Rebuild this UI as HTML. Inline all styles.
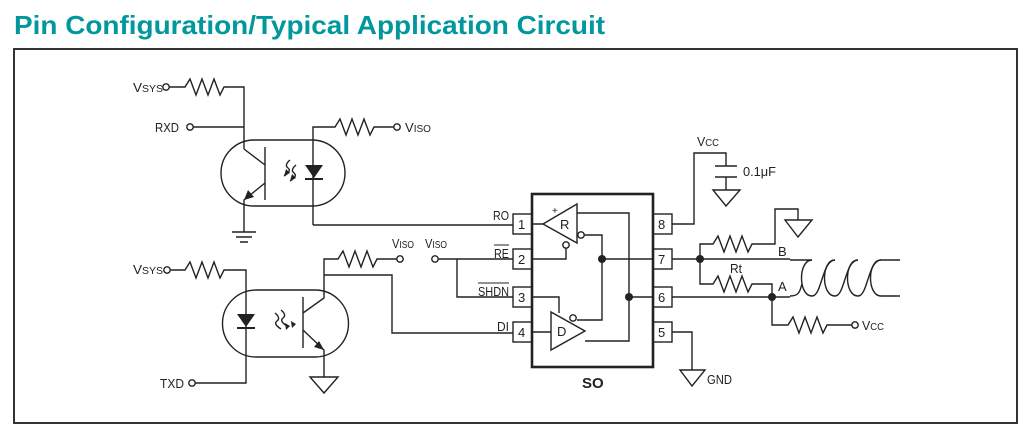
<!DOCTYPE html>
<html><head><meta charset="utf-8"><style>
body{margin:0;background:#fff;width:1024px;height:439px;overflow:hidden}
svg{display:block}
text{font-family:"Liberation Sans",sans-serif;fill:#222}
</style></head><body>
<svg width="1024" height="439" viewBox="0 0 1024 439" xmlns="http://www.w3.org/2000/svg">
<text x="14" y="34" font-size="26" font-weight="bold" style="fill:#00979d" textLength="591" lengthAdjust="spacingAndGlyphs">Pin Configuration/Typical Application Circuit</text>
<rect x="14" y="49" width="1003" height="374" fill="none" stroke="#333" stroke-width="2"/>
<g fill="none" stroke="#222" stroke-width="1.4">
<circle cx="166" cy="87" r="3.2"/>
<path d="M169,87H185l5,-8 6,16 6,-16 6,16 6,-16 6,16 4,-8H244V149"/>
<circle cx="190" cy="127" r="3.2"/>
<path d="M193,127H244"/>
<path d="M254,140H312A33,33 0 0 1 312,206H254A33,33 0 0 1 254,140Z"/>
<path d="M265,147V200M244,149L265,165M265,183L244,200V232M232,232H256M236,237H252M240,242H248"/>
<path d="M313,225V127H335l5,-8 6,16 6,-16 6,16 6,-16 6,16 4,-8H394"/>
<circle cx="397" cy="127" r="3.2"/>
<path d="M313,225H513"/>
<path d="M290,160q-6,5 -2,8t-4,8M296,165q-6,5 -2,8t-4,8"/>
<circle cx="167" cy="270" r="3.2"/>
<path d="M170,270H185l5,-8 6,16 6,-16 6,16 6,-16 6,16 4,-8H246V383H195"/>
<circle cx="192" cy="383" r="3.2"/>
<path d="M256,290H315A33,33 0 0 1 315,357H256A33,33 0 0 1 256,290Z"/>
<path d="M303,297V348M303,313L324,298V259H338l5,-8 6,16 6,-16 6,16 6,-16 6,16 4,-8H397"/>
<circle cx="400" cy="259" r="3.2"/>
<path d="M324,275H392V333H513"/>
<path d="M303,330L324,350V377"/>
<path d="M310,377H338L324,393Z"/>
<path d="M275,313q6,5 2,8t4,8M281,310q6,5 2,8t4,8"/>
<circle cx="435" cy="259" r="3.2"/>
<path d="M438,259H513M457,259V297H513"/>
<rect x="532" y="194" width="121" height="173" stroke-width="2.6"/>
<rect x="513" y="214" width="19" height="20"/><rect x="513" y="249" width="19" height="20"/>
<rect x="513" y="287" width="19" height="20"/><rect x="513" y="322" width="19" height="20"/>
<rect x="653" y="214" width="19" height="20"/><rect x="653" y="249" width="19" height="20"/>
<rect x="653" y="287" width="19" height="20"/><rect x="653" y="322" width="19" height="20"/>
<path d="M532,224H543M543,224L577,204V243Z"/>
<circle cx="581" cy="235" r="3.2"/><circle cx="566" cy="245" r="3.2"/>
<path d="M532,259H566V248M584,235H602V320H577M577,213H629V341H585M602,259H653M629,297H653"/>
<path d="M532,297H559V313M532,332H551M551,312V350L585,331Z"/>
<circle cx="573" cy="318" r="3.2"/>
<path d="M672,224H694V153H726V166M715,166H737M715,177H737M726,177V190M713,190H740L726,206Z"/>
<path d="M672,259H790M700,259V244H713l5,-8 6,16 6,-16 6,16 6,-16 6,16 4,-8H775V209H798V220M785,220H812L798,237Z"/>
<path d="M700,259V284H713l5,-8 6,16 6,-16 6,16 6,-16 6,16 4,-8H772V297"/>
<path d="M672,297H790M772,297V325H788l5,-8 6,16 6,-16 6,16 6,-16 6,16 4,-8H852"/>
<circle cx="855" cy="325" r="3.2"/>
<path d="M672,332H692V370M680,370H705L692,386Z"/>
<path d="M790,260H812M790,296C800,296 800,290 802,284"/>
<path d="M812,260C798,260 798,296 812,296M835,260C821,260 821,296 835,296M858,260C844,260 844,296 858,296M881,260C867,260 867,296 881,296H900M881,260H900"/>
<path d="M812,296C822,296 822,260 835,260M835,296C845,296 845,260 858,260M858,296C868,296 868,260 881,260"/>
</g>
<g fill="#222">
<path d="M305,165H323L314,178Z"/><rect x="305" y="178" width="18" height="2"/>
<path d="M237,314H255L246,327Z"/><rect x="237" y="327" width="18" height="2"/>
<path d="M244,200l4,-10 6,7Z"/><path d="M324,350l-10,-3 5,-6Z"/>
<path d="M284,176l2,-7 4,4Z"/><path d="M290,181l2,-7 4,4Z"/>
<path d="M286,330l-1,-7 5,3Z"/><path d="M292,328l-1,-7 5,3Z"/>
<circle cx="602" cy="259" r="4"/><circle cx="629" cy="297" r="4"/>
<circle cx="700" cy="259" r="4"/><circle cx="772" cy="297" r="4"/>
</g>
<g font-size="13">
<text x="133" y="92" textLength="30" lengthAdjust="spacingAndGlyphs">V<tspan font-size="10">SYS</tspan></text>
<text x="155" y="132" textLength="24" lengthAdjust="spacingAndGlyphs">RXD</text>
<text x="405" y="132" textLength="26" lengthAdjust="spacingAndGlyphs">V<tspan font-size="10">ISO</tspan></text>
<text x="133" y="274" textLength="30" lengthAdjust="spacingAndGlyphs">V<tspan font-size="10">SYS</tspan></text>
<text x="160" y="388" textLength="24" lengthAdjust="spacingAndGlyphs">TXD</text>
<text x="392" y="248" textLength="22" lengthAdjust="spacingAndGlyphs">V<tspan font-size="10">ISO</tspan></text>
<text x="425" y="248" textLength="22" lengthAdjust="spacingAndGlyphs">V<tspan font-size="10">ISO</tspan></text>
<text x="509" y="220" text-anchor="end" textLength="16" lengthAdjust="spacingAndGlyphs">RO</text>
<text x="509" y="258" text-anchor="end" textLength="15" lengthAdjust="spacingAndGlyphs">RE</text><path d="M494,245H509" stroke="#222"/>
<text x="509" y="296" text-anchor="end" textLength="31" lengthAdjust="spacingAndGlyphs">SHDN</text><path d="M478,283H509" stroke="#222"/>
<text x="509" y="331" text-anchor="end" textLength="12" lengthAdjust="spacingAndGlyphs">DI</text>
<text x="518" y="229">1</text><text x="518" y="264">2</text><text x="518" y="302">3</text><text x="518" y="337">4</text>
<text x="658" y="229">8</text><text x="658" y="264">7</text><text x="658" y="302">6</text><text x="658" y="337">5</text>
<text x="552" y="214" font-size="10">+</text>
<text x="560" y="229">R</text><text x="557" y="336">D</text>
<text x="697" y="146" textLength="22" lengthAdjust="spacingAndGlyphs">V<tspan font-size="10">CC</tspan></text>
<text x="743" y="176" textLength="33" lengthAdjust="spacingAndGlyphs">0.1μF</text>
<text x="778" y="256">B</text><text x="730" y="273" textLength="12" lengthAdjust="spacingAndGlyphs">Rt</text><text x="778" y="291">A</text>
<text x="862" y="330" textLength="22" lengthAdjust="spacingAndGlyphs">V<tspan font-size="10">CC</tspan></text>
<text x="707" y="384" textLength="25" lengthAdjust="spacingAndGlyphs">GND</text>
<text x="582" y="388" font-size="15" font-weight="bold">SO</text>
</g>
</svg>
</body></html>
